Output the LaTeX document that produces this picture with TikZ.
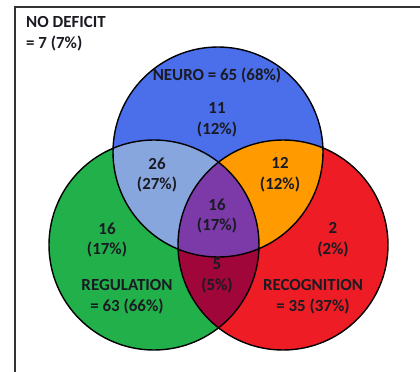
\documentclass[tikz,border=0pt]{standalone}
\usepackage{fontspec}
\setmainfont{Carlito}
\definecolor{cblue}{HTML}{4B6EEA}
\definecolor{cgreen}{HTML}{22B04B}
\definecolor{cred}{HTML}{EE1D25}
\definecolor{clight}{HTML}{88A6DE}
\definecolor{corange}{HTML}{FF9A00}
\definecolor{cpurple}{HTML}{7B3AA8}
\definecolor{cdark}{HTML}{A0063A}
\definecolor{ctext}{HTML}{1A1A22}
\begin{document}
\begin{tikzpicture}[x=1bp,y=-1bp,
  lab/.style={font=\fontsize{17}{21}\selectfont\bfseries, text=ctext, align=center, inner sep=0pt},
  ring/.style={draw=black, line width=1.4bp}]
\useasboundingbox (0,0) rectangle (420,372);
\fill[white] (0,0) rectangle (420,372);
% frame
\draw[line width=2bp, draw=black!80] (15,372) -- (15,7) -- (420,7);
\def\rr{105}
\coordinate (cb) at (218,152);
\coordinate (cg) at (154,245);
\coordinate (cr) at (283,245);
% base fills
\fill[cblue] (cb) circle (\rr);
\fill[cgreen] (cg) circle (\rr);
\fill[cred] (cr) circle (\rr);
% pairwise
\begin{scope}
  \clip (cb) circle (\rr);
  \fill[clight] (cg) circle (\rr);
  \fill[corange] (cr) circle (\rr);
\end{scope}
\begin{scope}
  \clip (cg) circle (\rr);
  \fill[cdark] (cr) circle (\rr);
\end{scope}
\begin{scope}
  \clip (cb) circle (\rr);
  \clip (cg) circle (\rr);
  \fill[cpurple] (cr) circle (\rr);
\end{scope}
% outlines
\draw[ring] (cb) circle (\rr);
\draw[ring] (cg) circle (\rr);
\draw[ring] (cr) circle (\rr);
% labels
\node[lab, anchor=north west, align=left] (nd) at (26,16) {NO DEFICIT\\= 7 (7\%)};
\node[lab] (neuro) at (217,75) {NEURO = 65 (68\%)};
\node[lab] (n11) at (217,120) {11\\(12\%)};
\node[lab] (n26) at (157,175) {26\\(27\%)};
\node[lab] (n12) at (280,175) {12\\(12\%)};
\node[lab] (n16c) at (217,216) {16\\(17\%)};
\node[lab] (n16) at (107,240) {16\\(17\%)};
\node[lab] (n2) at (333,240) {2\\(2\%)};
\node[lab] (n5) at (217,276) {5\\(5\%)};
\node[lab] (reg) at (127,297) {REGULATION\\= 63 (66\%)};
\node[lab] (rec) at (313,297) {RECOGNITION\\= 35 (37\%)};
\end{tikzpicture}
\end{document}
